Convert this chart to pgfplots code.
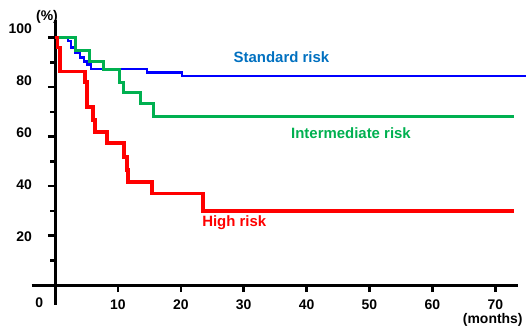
\documentclass[border=0pt]{standalone}
\usepackage{fontspec}
\setmainfont{Liberation Sans}
\usepackage{pgfplots}
\pgfplotsset{compat=1.18}
\definecolor{cblue}{RGB}{0,0,255}
\definecolor{cgreen}{RGB}{0,176,80}
\definecolor{cred}{RGB}{255,0,0}
\definecolor{tblue}{RGB}{0,112,192}
\begin{document}
\begin{tikzpicture}
\path[use as bounding box] (-55bp,-42bp) rectangle (471bp,285bp);
\begin{axis}[
  at={(0,0)}, anchor=origin,
  scale only axis, width=486.2bp, height=284.6bp,
  xmin=-3.7, xmax=73.6, ymin=-8, ymax=107,
  axis lines=middle,
  x axis line style={-, line width=3bp, black},
  y axis line style={-, line width=3bp, black},
  every inner x axis line/.append style={-, line width=3bp},
  every inner y axis line/.append style={-, line width=3bp},
  xtick={10,20,...,70}, ytick={20,40,...,100},
  minor ytick={10,30,...,90},
  tick align=outside,
  major tick length=7bp, minor tick length=5bp,
  every tick/.style={black, line width=2.5bp},
  every major tick/.style={black, line width=2.5bp},
  every minor tick/.style={black, line width=2.5bp},
  clip=false,
  /pgf/number format/assume math mode=true,
  ticklabel style={font=\fontsize{14}{14}\selectfont\bfseries},
  xticklabel style={anchor=north, inner sep=0pt, yshift=-8bp},
  yticklabel style={anchor=east, inner sep=0pt, xshift=-16bp, yshift={(2.5*\ticknum-1)*1bp}},
]
\addplot[const plot, cblue, line width=2.5bp] coordinates {
 (0,100) (2.1,98.5) (2.55,96) (3.2,93.7) (4.0,92) (4.6,90.4) (5.2,89) (5.7,87.3)
 (14.6,85.8) (20.2,84.4) (75,84.4)};
\addplot[const plot, cgreen, line width=3.2bp] coordinates {
 (0,100) (3.3,94.7) (5.45,90.4) (7.7,87.0) (10.3,81.7) (10.9,77.7) (13.6,73.4)
 (15.6,68.0) (73,68.0)};
\addplot[const plot, cred, line width=3.8bp] coordinates {
 (0,100) (0.4,96) (0.8,86.3) (4.8,81.9) (5.1,72.0) (6.0,66.7) (6.4,61.9)
 (8.3,57.3) (11.0,51.8) (11.4,46.5) (11.65,41.7) (15.4,37.0) (23.5,30.0) (73,30.0)};
\node[font=\fontsize{15}{15}\selectfont\bfseries, text=tblue] at (axis cs:36.0,92.1) {Standard risk};
\node[font=\fontsize{15}{15}\selectfont\bfseries, text=cgreen] at (axis cs:47.06,61.4) {Intermediate risk};
\node[font=\fontsize{15}{15}\selectfont\bfseries, text=cred] at (axis cs:28.5,25.05) {High risk};
\node[font=\fontsize{14}{14}\selectfont\bfseries] at (axis cs:-1.27,108.3) {(\%)};
\node[font=\fontsize{14}{14}\selectfont\bfseries] at (axis cs:69.6,-14.1) {(months)};
\node[font=\fontsize{14}{14}\selectfont\bfseries] at (axis cs:-2.5,-7.3) {0};
\end{axis}
\end{tikzpicture}
\end{document}
